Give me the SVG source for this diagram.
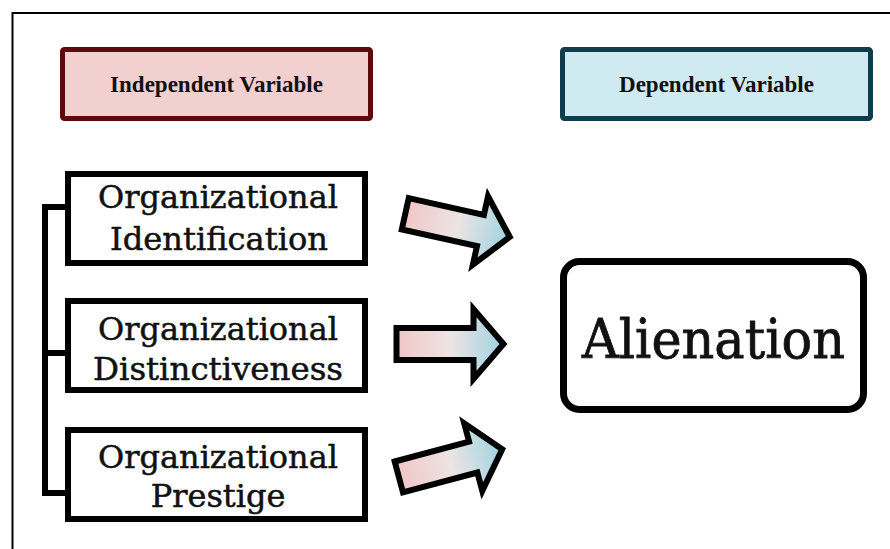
<svg xmlns="http://www.w3.org/2000/svg" width="890" height="549" viewBox="0 0 890 549">
  <defs>
    <linearGradient id="arrowGrad" x1="0" y1="0" x2="1" y2="0">
      <stop offset="0" stop-color="#f1c6c6"/>
      <stop offset="0.5" stop-color="#ede4e4"/>
      <stop offset="1" stop-color="#9ed3e2"/>
    </linearGradient>
    <path id="arrowShape" d="M-54,-16 H23 V-35 L53,0 L23,35 V16 H-54 Z"/>
  </defs>
  <style>
    .hdr { font-family: "Liberation Serif", "Times New Roman", serif; font-weight: bold; font-size: 23px; fill: #111; text-anchor: middle; }
    .lbl { font-family: "DejaVu Serif", "Liberation Serif", serif; font-size: 32px; fill: #111; stroke: #111; stroke-width: 0.5; text-anchor: middle; }
    .big { font-family: "DejaVu Serif", "Liberation Serif", serif; font-size: 54px; fill: #111; stroke: #111; stroke-width: 0.8; text-anchor: middle; }
    .box { fill: #ffffff; stroke: #000; stroke-width: 6; }
    .arrow { fill: url(#arrowGrad); stroke: #000; stroke-width: 6; stroke-linejoin: miter; stroke-miterlimit: 10; }
    .conn { fill: none; stroke: #000; stroke-width: 6; }
  </style>
  <rect x="0" y="0" width="890" height="549" fill="#ffffff"/>
  <path d="M12.5,549 V13 H890" fill="none" stroke="#000" stroke-width="2"/>

  <g id="independent-header">
    <rect x="62.5" y="49.5" width="308" height="69" rx="2" fill="#f2d0d0" stroke="#5c0a0a" stroke-width="5"/>
    <text class="hdr" x="216.5" y="92">Independent Variable</text>
  </g>
  <g id="dependent-header">
    <rect x="562.5" y="49.5" width="308" height="69" rx="2" fill="#d0eaf1" stroke="#0f3d4e" stroke-width="5"/>
    <text class="hdr" x="716.5" y="92">Dependent Variable</text>
  </g>

  <g id="connectors">
    <path class="conn" d="M66,207 H45 V493 H66"/>
    <path class="conn" d="M45,353 H66"/>
  </g>

  <g id="org-identification">
    <rect class="box" x="68" y="174" width="297" height="89"/>
    <text class="lbl" x="218" y="208" textLength="240" lengthAdjust="spacingAndGlyphs">Organizational</text>
    <text class="lbl" x="219" y="250" textLength="218" lengthAdjust="spacingAndGlyphs">Identification</text>
  </g>
  <g id="org-distinctiveness">
    <rect class="box" x="68" y="301" width="297" height="89"/>
    <text class="lbl" x="218" y="340" textLength="240" lengthAdjust="spacingAndGlyphs">Organizational</text>
    <text class="lbl" x="218" y="380" textLength="250" lengthAdjust="spacingAndGlyphs">Distinctiveness</text>
  </g>
  <g id="org-prestige">
    <rect class="box" x="68" y="430" width="297" height="89"/>
    <text class="lbl" x="218" y="468" textLength="240" lengthAdjust="spacingAndGlyphs">Organizational</text>
    <text class="lbl" x="218" y="507">Prestige</text>
  </g>

  <g id="arrow-1">
    <use href="#arrowShape" class="arrow" transform="translate(458,225.5) rotate(12.5)"/>
  </g>
  <g id="arrow-2">
    <use href="#arrowShape" class="arrow" transform="translate(450.5,344)"/>
  </g>
  <g id="arrow-3">
    <use href="#arrowShape" class="arrow" transform="translate(451,463) rotate(-15)"/>
  </g>

  <g id="alienation">
    <rect x="563.5" y="261.5" width="300" height="148" rx="16" fill="#ffffff" stroke="#000" stroke-width="7"/>
    <text class="big" x="713.5" y="358" textLength="263" lengthAdjust="spacingAndGlyphs">Alienation</text>
  </g>
</svg>
